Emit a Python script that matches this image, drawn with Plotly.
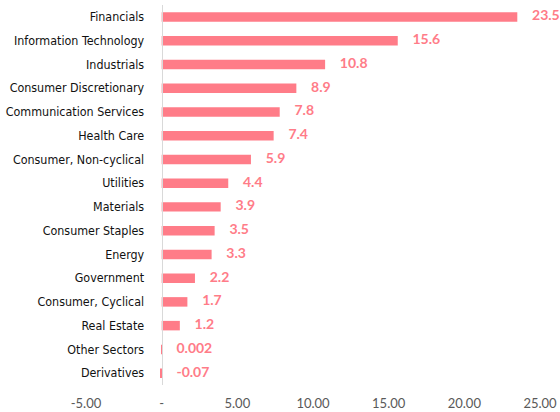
import plotly.graph_objects as go

categories = ["Financials", "Information Technology", "Industrials", "Consumer Discretionary",
              "Communication Services", "Health Care", "Consumer, Non-cyclical", "Utilities",
              "Materials", "Consumer Staples", "Energy", "Government", "Consumer, Cyclical",
              "Real Estate", "Other Sectors", "Derivatives"]
values = [23.5, 15.6, 10.8, 8.9, 7.8, 7.4, 5.9, 4.4, 3.9, 3.5, 3.3, 2.2, 1.7, 1.2, 0.002, -0.07]
x_tickvals = [-5, 0, 5, 10, 15, 20, 25]
x_ticktext = ["-5.00", "-", "5.00", "10.00", "15.00", "20.00", "25.00"]

BAR = "#FF7C88"

fig = go.Figure()
fig.add_trace(go.Bar(
    x=values, y=categories, orientation="h",
    marker=dict(color=BAR, line=dict(width=0)),
    hoverinfo="skip",
))
fig.add_trace(go.Scatter(
    x=[max(v, 0) for v in values], y=categories, mode="markers+text",
    marker=dict(size=22, opacity=0),
    text=[str(v) for v in values], textposition="middle right",
    textfont=dict(family="Lato", size=14, color=BAR, weight="bold"),
    hoverinfo="skip",
    cliponaxis=False,
))

fig.update_layout(
    width=560, height=412,
    margin=dict(l=86, r=20, t=5, b=27),
    paper_bgcolor="white", plot_bgcolor="white",
    showlegend=False,
    bargap=0.6,
    xaxis=dict(
        range=[-5, 25], tickvals=x_tickvals, ticktext=x_ticktext,
        showgrid=False, zeroline=False, showline=False, automargin=False,
        tickfont=dict(family="Lato", size=13, color="#595959"),
        ticklabelstandoff=9,
    ),
    yaxis=dict(
        categoryorder="array", categoryarray=categories,
        range=[len(categories) - 0.5, -0.5],
        anchor="free", position=1/6, automargin=False,
        showgrid=False, zeroline=False, showline=True, linecolor="#D9D9D9", linewidth=1,
        ticks="", ticklabelstandoff=15,
        tickfont=dict(family="DejaVu Sans Condensed, DejaVu Sans", size=12.4, color="#111111"),
    ),
)

fig.write_html("out.html", config={"displayModeBar": False},
               post_script="document.body.style.margin='0';document.body.style.padding='0';")
